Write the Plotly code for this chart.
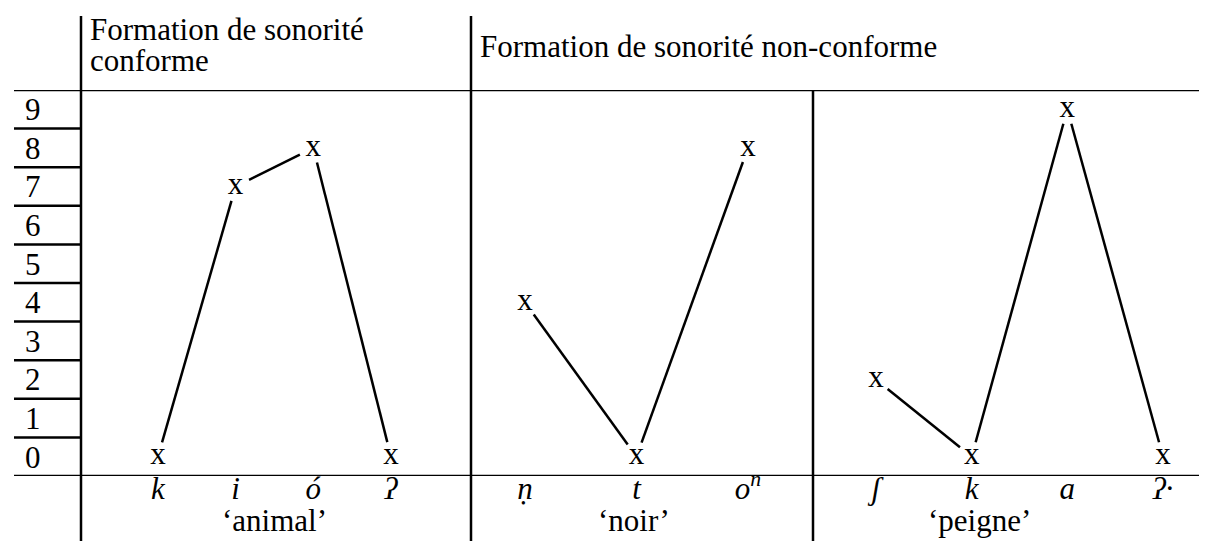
import plotly.graph_objects as go

# -----------------------------------------------------------------------------
# Data: sonority value of each segment, per word
# -----------------------------------------------------------------------------
SCALE = list(range(10))

SEG_ANIMAL = ["k", "i", "ó", "ʔ"]
SON_ANIMAL = [0, 7, 8, 0]

SEG_NOIR = ["ṇ", "t", "o<sup>n</sup>"]
SON_NOIR = [4, 0, 8]

SEG_PEIGNE = ["ʃ", "k", "a", "ʔ·"]
SON_PEIGNE = [2, 0, 9, 0]

GLOSSES = ["‘animal’", "‘noir’", "‘peigne’"]
HEADER_LEFT = ["Formation de sonorité", "conforme"]
HEADER_RIGHT = "Formation de sonorité non-conforme"

# -----------------------------------------------------------------------------
# Layout (pixels of the 1207x541 page)
# -----------------------------------------------------------------------------
W, H = 1207, 541
FONT = "Liberation Serif, Times New Roman, serif"
FS = 31
LW = 2.5
GAP = 15  # free space between a line end and its "x"

COL = [73, 463, 805, 1207]        # column borders
Y_TOP, Y_BOT = 82, 468            # top / bottom of the scale rows
RANGES = [(-0.99, 4.03), (-0.484, 2.583), (-0.658, 3.543)]
GLOSS_AT = [1.5, 0.98, 1.08]

panels = [
    (SEG_ANIMAL, SON_ANIMAL),
    (SEG_NOIR, SON_NOIR),
    (SEG_PEIGNE, SON_PEIGNE),
]


def to_px(i, v, k):
    r0, r1 = RANGES[k]
    x = COL[k] + (i - r0) / (r1 - r0) * (COL[k + 1] - COL[k])
    y = Y_BOT - (v + 0.5) / 10 * (Y_BOT - Y_TOP)
    return x, y


def from_px(x, y, k):
    r0, r1 = RANGES[k]
    i = r0 + (x - COL[k]) / (COL[k + 1] - COL[k]) * (r1 - r0)
    v = (Y_BOT - y) / (Y_BOT - Y_TOP) * 10 - 0.5
    return i, v


def txt(**kw):
    return dict(showarrow=False, font=dict(family=FONT, size=FS, color="black"), **kw)


fig = go.Figure()

for k, (segs, sons) in enumerate(panels):
    xa = "x" if k == 0 else f"x{k + 1}"
    idx = list(range(len(segs)))

    # connecting lines, shortened at both ends
    lx, ly = [], []
    for a in range(len(segs) - 1):
        x0, y0 = to_px(idx[a], sons[a], k)
        x1, y1 = to_px(idx[a + 1], sons[a + 1], k)
        d = ((x1 - x0) ** 2 + (y1 - y0) ** 2) ** 0.5
        ux, uy = (x1 - x0) / d, (y1 - y0) / d
        p = from_px(x0 + ux * GAP, y0 + uy * GAP, k)
        q = from_px(x1 - ux * GAP, y1 - uy * GAP, k)
        lx += [p[0], q[0], None]
        ly += [p[1], q[1], None]
    fig.add_trace(go.Scatter(
        x=lx, y=ly, mode="lines", xaxis=xa, yaxis="y",
        line=dict(color="black", width=LW), hoverinfo="skip",
    ))

    # the "x" marks
    fig.add_trace(go.Scatter(
        x=idx, y=sons, mode="text", text=["x"] * len(segs),
        textposition="middle center", xaxis=xa, yaxis="y",
        textfont=dict(family=FONT, size=FS, color="black"),
        hovertext=segs,
    ))

    fig.layout[f"xaxis{'' if k == 0 else k + 1}"] = dict(
        domain=[COL[k] / W, COL[k + 1] / W],
        range=list(RANGES[k]),
        anchor="free", position=1 - 459 / H,
        tickvals=idx,
        ticktext=[f"<i>{s}</i>" for s in segs],
        tickfont=dict(family=FONT, size=FS, color="black"),
        showgrid=False, zeroline=False, showline=False, ticks="",
        fixedrange=True,
    )

    fig.add_annotation(txt(
        x=GLOSS_AT[k], xref=xa, y=1 - 512 / H, yref="paper",
        text=GLOSSES[k], yanchor="middle",
    ))

fig.update_layout(
    yaxis=dict(
        domain=[1 - Y_BOT / H, 1 - Y_TOP / H],
        range=[-0.5, 9.5],
        tickvals=SCALE,
        anchor="free", position=13 / W,
        ticklabelposition="inside",
        tickfont=dict(family=FONT, size=FS, color="black"),
        showgrid=False, zeroline=False, showline=False, ticks="",
        fixedrange=True,
    ),
)

# headers
fig.add_annotation(txt(x=80 / W, y=1 - 21 / H, xref="paper", yref="paper",
                       text=HEADER_LEFT[0], xanchor="left", yanchor="middle"))
fig.add_annotation(txt(x=80 / W, y=1 - 52 / H, xref="paper", yref="paper",
                       text=HEADER_LEFT[1], xanchor="left", yanchor="middle"))
fig.add_annotation(txt(x=470 / W, y=1 - 38 / H, xref="paper", yref="paper",
                       text=HEADER_RIGHT, xanchor="left", yanchor="middle"))

# table borders
line = dict(color="black", width=LW)
shapes = []
for v in [-0.5, 9.5]:
    shapes.append(dict(type="line", xref="paper", yref="y", x0=6 / W, x1=1,
                       y0=v, y1=v, line=line))
for v in SCALE[:-1]:
    shapes.append(dict(type="line", xref="paper", yref="y", x0=6 / W,
                       x1=COL[0] / W, y0=v + 0.5, y1=v + 0.5, line=line))
for c in COL[:2]:
    shapes.append(dict(type="line", xref="paper", yref="paper", x0=c / W,
                       x1=c / W, y0=0, y1=1 - 8 / H, line=line))
shapes.append(dict(type="line", xref="paper", yref="paper", x0=COL[2] / W,
                   x1=COL[2] / W, y0=0, y1=1 - Y_TOP / H, line=line))

fig.update_layout(
    width=W, height=H,
    margin=dict(l=0, r=0, t=0, b=0),
    paper_bgcolor="white", plot_bgcolor="white",
    showlegend=False,
    shapes=shapes,
    font=dict(family=FONT, size=FS, color="black"),
)

fig.write_html("out.html")
